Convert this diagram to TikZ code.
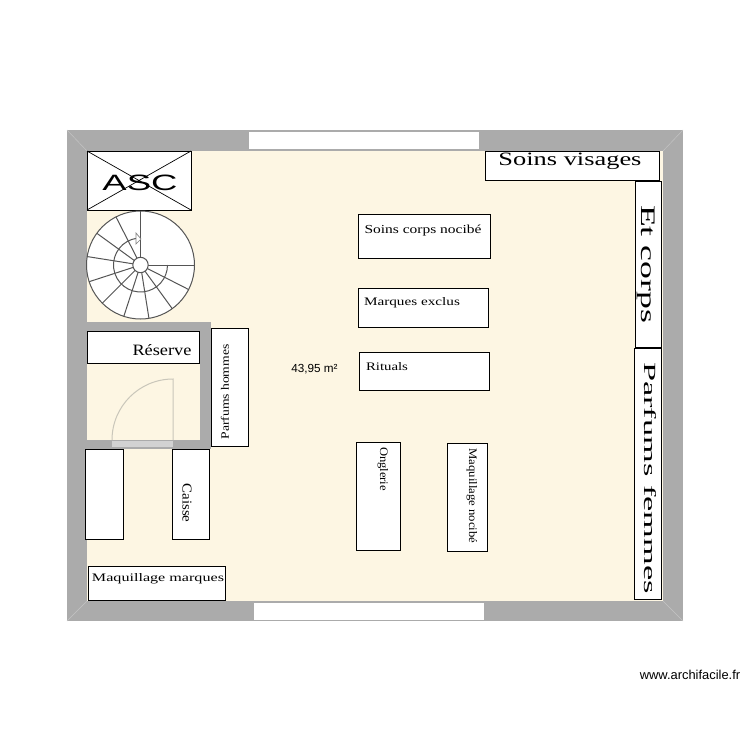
\documentclass[tikz,border=0pt]{standalone}
\usepackage{fontspec}
\usetikzlibrary{calc}
\setmainfont{Liberation Serif}
\setsansfont{Liberation Sans}
\newlength\px
\setlength\px{0.3mm}
\newcommand{\signe}[3]{\resizebox{#1\px}{#2\px}{#3}}
\definecolor{mur}{HTML}{ABABAB}
\definecolor{sol}{HTML}{FDF6E3}
\definecolor{porte}{HTML}{C9C6BA}
\definecolor{marche}{HTML}{555555}
\tikzset{
  meuble/.style={draw=black, fill=white, line width=1\px},
  etiquette/.style={inner sep=0pt},
  marches/.style={draw=marche, line width=1\px},
}
\begin{document}
\begin{tikzpicture}[x=0.3mm, y=-0.3mm]
  \useasboundingbox (0,0) rectangle (750,750);

  % Walls, floor and windows
  \fill[mur] (67,130) rectangle (683,621);
  \fill[sol] (87,151) rectangle (663,601);
  \fill[white] (249,131.5) rectangle (479,149);
  \fill[white] (254,602.5) rectangle (484,619.5);
  \draw[mur!70!white] (67,130) -- (87,151) (683,130) -- (663,151) (67,621) -- (87,601) (683,621) -- (663,601);

  % Reserve room
  \fill[mur] (87,322) rectangle (211,449);
  \fill[sol] (87,331) rectangle (200,440);

  % Door
  \fill[gray!35] (112,441) rectangle (173,447);
  \draw[porte, line width=1\px] (112,440) arc[start angle=180, end angle=270, radius=61] -- (173,440);

  % Furniture
  \foreach \xa/\ya/\xb/\yb in {87/151/191/210, 485/151/659/180, 635/181/661/347, 634/348/661/599,
      358/214/490/258, 358/288/488/327, 359.5/352.5/489/390.5, 356/442/400/550, 447/443/487/551,
      87/331.5/199.5/363.5, 211/328.5/248/446, 85/449/123/539, 172/449/209/539, 88/566/225/600}
    \draw[meuble] (\xa,\ya) rectangle (\xb,\yb);

  % Lift
  \node[etiquette, font=\sffamily] (asc) at (140,182.5) {\signe{75}{15.5}{ASC}};
  \draw[line width=0.7\px] (87,151) -- (191,210) (191,151) -- (87,210);

  % Spiral stairs
  \coordinate (axe) at (140.5,265);
  \draw[marches, fill=white] (axe) circle (54);
  \foreach \a in {0,27,...,270}
    \draw[marches] ($(axe)+(\a:7.7)$) -- ($(axe)+(\a:54)$);
  \draw[marches] ($(axe)+(263:27)$) arc[start angle=263, end angle=0, radius=27];
  \node[circle, marches, fill=white, minimum size=15.4\px, inner sep=0pt] (noyau) at (axe) {};
  \draw[gray, fill=white, line width=0.7\px] (136,233) -- (141,239) -- (136,244) -- cycle;

  % Labels
  \node[etiquette] (soinsvisages) at (570,161.5) {\signe{143}{12.5}{Soins visages}};
  \node[etiquette, rotate=-90] (etcorps) at (646,264) {\signe{118}{13.5}{Et corps}};
  \node[etiquette, rotate=-90] (parfumsfemmes) at (650,478) {\signe{232}{12}{Parfums femmes}};
  \node[etiquette] (soinscorps) at (423,231) {\signe{117}{8.5}{Soins corps nocibé}};
  \node[etiquette] (marques) at (412,303) {\signe{96}{8}{Marques exclus}};
  \node[etiquette] (rituals) at (387,367) {\signe{42}{8}{Rituals}};
  \node[etiquette, rotate=-90] (onglerie) at (383,469) {\signe{44}{8}{Onglerie}};
  \node[etiquette, rotate=-90] (maqnocibe) at (472,496) {\signe{95}{8}{Maquillage nocibé}};
  \node[etiquette] (reserve) at (162,350) {\signe{59}{11}{Réserve}};
  \node[etiquette, rotate=90] (parfumshommes) at (225,392) {\signe{95}{8}{Parfums hommes}};
  \node[etiquette, rotate=-90] (caisse) at (187,503) {\signe{39}{9}{Caisse}};
  \node[etiquette] (maqmarques) at (158,579) {\signe{132}{8}{Maquillage marques}};

  \node[etiquette, font=\sffamily\fontsize{10}{12}\selectfont] (surface) at (314.5,369) {43,95 m²};
  \node[etiquette, font=\sffamily\fontsize{11}{13}\selectfont] (site) at (690,675) {www.archifacile.fr};
\end{tikzpicture}
\end{document}
